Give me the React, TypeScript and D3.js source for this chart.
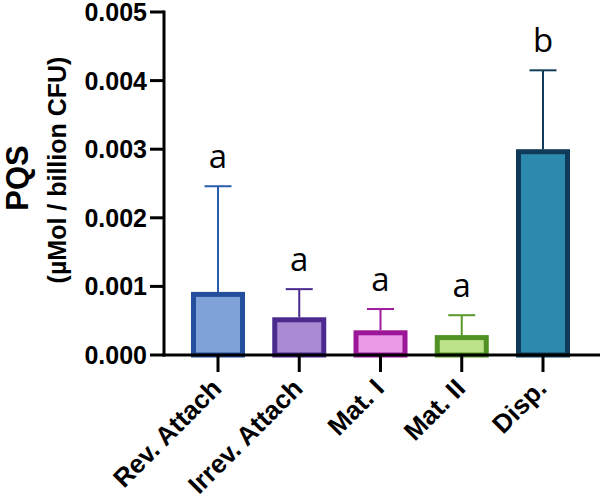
import React from "react";
import * as d3 from "d3";

const categories = ["Rev. Attach", "Irrev. Attach", "Mat. I", "Mat. II", "Disp."];
const means = [0.00092, 0.00055, 0.00036, 0.00029, 0.003];
const errors = [0.00154, 0.00041, 0.00031, 0.00029, 0.00115];
const letters = ["a", "a", "a", "a", "b"];
const fills = ["#7fa2d8", "#a98ad2", "#eb9ae8", "#bde38a", "#2c8aae"];
const strokes = ["#244f9c", "#4a2a8f", "#9b1797", "#4f9122", "#0f3b58"];
const errColors = ["#2a5caa", "#4a2a8f", "#a01a9c", "#5a9a2a", "#123d5a"];
const yTicks = [0, 0.001, 0.002, 0.003, 0.004, 0.005];

export default function App() {
  const W = 600, H = 503;
  const axisX = 164, axisY = 355;
  const y = d3.scaleLinear().domain([0, 0.005]).range([axisY, 12]);
  const x = d3.scalePoint<string>().domain(categories).range([218, 543]);
  const bw = 54;
  const sw = 5;
  const cap = 27;
  return (
    <svg width={W} height={H} style={{ position: "absolute", left: 0, top: 0 }}
      fontFamily="'Liberation Sans', Arial, sans-serif">
      <rect width={W} height={H} fill="#fff" />
      {categories.map((c, i) => {
        const cx = x(c)!;
        const top = y(means[i]);
        const et = y(means[i] + errors[i]);
        return (
          <g key={c}>
            <line x1={cx} x2={cx} y1={top} y2={et} stroke={errColors[i]} strokeWidth={2} />
            <line x1={cx - cap / 2} x2={cx + cap / 2} y1={et} y2={et} stroke={errColors[i]} strokeWidth={2} />
            <rect x={cx - bw / 2 + sw / 2} y={top + sw / 2} width={bw - sw} height={axisY - top - sw / 2}
              fill={fills[i]} stroke={strokes[i]} strokeWidth={sw} />
            <text x={cx} y={et - 18} textAnchor="middle" fontFamily="'Open Sans', sans-serif" fontSize={33} fill="#000">{letters[i]}</text>
          </g>
        );
      })}
      {/* y axis */}
      <line x1={axisX} x2={axisX} y1={y(0.005) - 1.5} y2={axisY + 1.5} stroke="#000" strokeWidth={3} />
      {yTicks.map((t) => (
        <g key={t}>
          <line x1={axisX - 14} x2={axisX} y1={y(t)} y2={y(t)} stroke="#000" strokeWidth={3} />
          <text x={147} y={y(t)} dy="0.36em" textAnchor="end" fontWeight="bold" fontSize={25}>{d3.format(".3f")(t)}</text>
        </g>
      ))}
      {/* x axis */}
      <line x1={axisX - 1.5} x2={600} y1={axisY} y2={axisY} stroke="#000" strokeWidth={3} />
      {categories.map((c) => (
        <g key={c}>
          <line x1={x(c)!} x2={x(c)!} y1={axisY} y2={axisY + 17} stroke="#000" strokeWidth={3} />
          <text transform={`translate(${x(c)! + 5},${390}) rotate(-45)`} textAnchor="end" fontWeight="bold" fontSize={26}>{c}</text>
        </g>
      ))}
      {/* y title */}
      <text transform="translate(28,178) rotate(-90)" textAnchor="middle" fontWeight="bold" fontSize={31}>PQS</text>
      <text transform="translate(66,170) rotate(-90)" textAnchor="middle" fontWeight="bold" fontSize={25}>(µMol / billion CFU)</text>
    </svg>
  );
}
